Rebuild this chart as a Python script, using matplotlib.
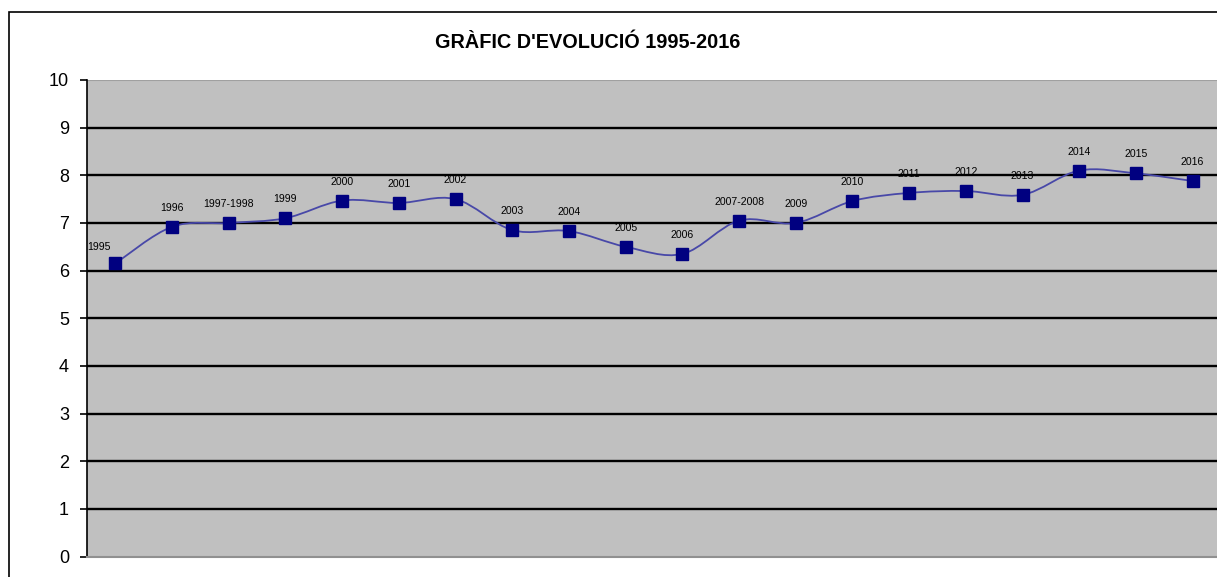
import matplotlib
matplotlib.use("Agg")
import matplotlib.pyplot as plt
from matplotlib.path import Path
from matplotlib.patches import PathPatch, Rectangle

# values
periods = ["1995", "1996", "1997-1998", "1999", "2000", "2001", "2002",
           "2003", "2004", "2005", "2006", "2007-2008", "2009", "2010",
           "2011", "2012", "2013", "2014", "2015", "2016"]
scores = [6.15, 6.92, 7.00, 7.10, 7.47, 7.42, 7.50, 6.85, 6.83, 6.50,
          6.35, 7.05, 7.00, 7.46, 7.63, 7.67, 7.59, 8.10, 8.04, 7.88]
yticks = list(range(0, 11))

plt.rcParams["font.family"] = ["Liberation Sans", "DejaVu Sans"]

W, H = 1217, 577
fig = plt.figure(figsize=(W / 100, H / 100), dpi=100)

# outer chart frame (cropped on the right and bottom like the screenshot)
fig.patches.append(Rectangle((9 / W, -0.1), 1.2, 1 - 12 / H + 0.1,
                             transform=fig.transFigure, fill=False,
                             edgecolor="black", lw=1.2))

left, right, top, bottom = 87, 1221, 80, 556.5
ax = fig.add_axes([left / W, 1 - bottom / H, (right - left) / W, (bottom - top) / H])
ax.set_facecolor("#C0C0C0")

xs = list(range(len(periods)))
ax.set_xlim(-0.5, len(periods) - 0.5)
ax.set_ylim(0, 10)

for v in yticks[1:-1]:
    ax.axhline(v, color="black", lw=1.7, zorder=1)

# smoothed line (Excel style: cubic Bezier, Catmull-Rom control points)
pts = list(zip(xs, scores))
verts = [pts[0]]
codes = [Path.MOVETO]
n = len(pts)
for i in range(n - 1):
    p0 = pts[i - 1] if i > 0 else pts[i]
    p1 = pts[i]
    p2 = pts[i + 1]
    p3 = pts[i + 2] if i + 2 < n else pts[i + 1]
    c1 = (p1[0] + (p2[0] - p0[0]) / 6, p1[1] + (p2[1] - p0[1]) / 6)
    c2 = (p2[0] - (p3[0] - p1[0]) / 6, p2[1] - (p3[1] - p1[1]) / 6)
    verts += [c1, c2, p2]
    codes += [Path.CURVE4] * 3
ax.add_patch(PathPatch(Path(verts, codes), fill=False, edgecolor="#4848A8",
                       lw=1.3, zorder=2))

ax.plot(xs, scores, linestyle="none", marker="s", markersize=8.5,
        color="#000080", zorder=3)

for i, (lab, v) in enumerate(zip(periods, scores)):
    off = (-16, 16) if i == 0 else (0, 19)
    ax.annotate(lab, (i, v), xytext=off, textcoords="offset pixels",
                ha="center", va="center", fontsize=7.6, color="black",
                zorder=4)

ax.set_xticks([])
ax.set_yticks(yticks)
ax.tick_params(axis="y", labelsize=13, length=5, width=1.2, pad=8,
               colors="black")
for s in ("top", "right"):
    ax.spines[s].set_visible(False)
ax.spines["left"].set_color("black")
ax.spines["left"].set_linewidth(1.2)
ax.spines["bottom"].set_color("#909090")
ax.spines["bottom"].set_linewidth(1.5)
ax.axhline(10, color="#A0A0A0", lw=1.5, zorder=1)

fig.text(588 / W, 1 - 43 / H, "GRÀFIC D'EVOLUCIÓ 1995-2016", ha="center",
         va="center", fontsize=14.3, fontweight="bold")

fig.savefig("out.png", dpi=100)
